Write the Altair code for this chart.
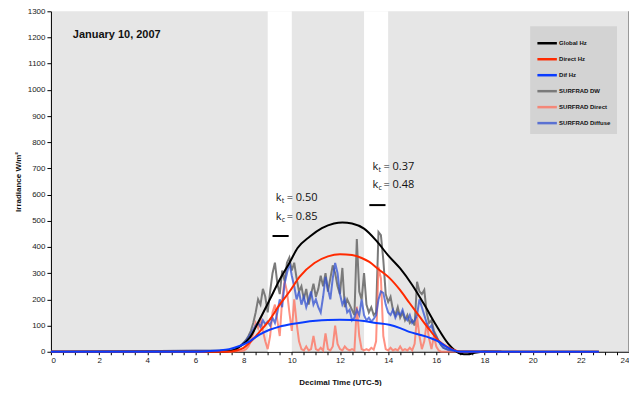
import altair as alt
import pandas as pd

# ---------------- data ----------------
series_names = ["Global Hz", "Direct Hz", "Dif Hz", "SURFRAD DW", "SURFRAD Direct", "SURFRAD Diffuse"]
series_colors = ["#000000", "#ff2a00", "#0a3cff", "#7a7a7a", "rgba(255,110,90,0.75)", "rgba(50,80,210,0.75)"]

glob_x = [0, 7.0, 7.3, 7.6, 7.83, 8.25, 8.66, 9.08, 9.49, 9.9, 10.24, 10.75, 11.25, 11.75, 12.1, 12.5, 13.0, 13.5, 14.0, 14.5, 15.0, 15.5, 16.0, 16.5, 16.8, 17.0, 17.3, 17.6, 18.0, 22.75]
glob_y = [0, 0, 1, 6, 19, 53, 122, 198, 274, 339, 396, 440, 472, 490, 494, 490, 470, 425, 368, 318, 255, 180, 100, 30, 3, -8, -10, -4, 0, 0]

dir_x = [0, 7.0, 7.3, 7.7, 8.0, 8.25, 8.66, 9.08, 9.49, 9.9, 10.32, 10.94, 11.5, 12.0, 12.5, 12.9, 13.22, 13.6, 14.05, 14.5, 14.88, 15.3, 15.71, 16.12, 16.4, 16.7, 17.0, 22.75]
dir_y = [0, 0, 0, 5, 15, 34, 76, 122, 179, 229, 286, 339, 364, 372, 369, 358, 343, 315, 282, 235, 187, 135, 85, 40, 22, 8, 0, 0]

dif_x = [0, 6.0, 6.5, 7.0, 7.4, 7.83, 8.25, 8.66, 9.08, 9.49, 10.0, 10.5, 11.0, 11.5, 12.0, 12.5, 13.0, 13.5, 14.05, 14.5, 14.88, 15.3, 15.71, 16.12, 16.4, 16.7, 17.0, 22.75]
dif_y = [0, 0, 2, 5, 10, 22, 40, 65, 84, 96, 106, 113, 118, 121, 122, 121, 117, 110, 103, 90, 76, 65, 54, 38, 20, 6, 0, 0]

surf_x = [0, 7.5, 7.6, 7.7, 7.8, 7.9, 8.0, 8.1, 8.2, 8.3, 8.4, 8.5, 8.6, 8.7, 8.8, 8.9, 9.0, 9.1, 9.2, 9.3, 9.4, 9.5, 9.6, 9.7, 9.8, 9.9,
          10.0, 10.1, 10.2, 10.3, 10.4, 10.5, 10.6, 10.7, 10.8, 10.9, 11.0, 11.1, 11.2, 11.3, 11.4, 11.5, 11.6, 11.7, 11.8, 11.9,
          12.0, 12.1, 12.2, 12.3, 12.4, 12.5, 12.6, 12.7, 12.8, 12.9, 13.0, 13.1, 13.2, 13.3, 13.4, 13.5, 13.6, 13.7, 13.8, 13.9,
          14.0, 14.1, 14.2, 14.3, 14.4, 14.5, 14.6, 14.7, 14.8, 14.9, 15.0, 15.1, 15.2, 15.3, 15.4, 15.5, 15.6, 15.7, 15.8, 15.9,
          16.0, 16.1, 16.2, 16.3, 16.5, 16.8, 18.7]
surf_dw = [0, 5, 8, 12, 18, 25, 35, 45, 60, 80, 110, 150, 200, 180, 240, 210, 150, 230, 300, 340, 260, 220, 310, 270, 340, 360,
           310, 340, 280, 230, 250, 200, 240, 180, 220, 260, 210, 240, 290, 250, 300, 230, 280, 330, 300, 250,
           220, 320, 170, 200, 180, 160, 140, 430, 230, 200, 300, 180, 150, 170, 140, 150, 457, 445, 350, 220,
           190, 210, 160, 140, 170, 130, 150, 120, 140, 110, 120, 100, 267, 230, 220, 236, 150, 110, 120, 80,
           60, 40, 25, 15, 8, 3, 0]
surf_direct = [0, 0, 1, 2, 2, 3, 5, 10, 20, 40, 70, 110, 90, 130, 80, 40, 10, 60, 150, 180, 120, 60, 200, 270, 230, 150,
               80, 200, 110, 40, 10, 5, 20, 5, 10, 60, 10, 5, 15, 5, 70, 10, 5, 20, 100, 30,
               10, 5, 20, 10, 5, 10, 5, 172, 60, 10, 5, 10, 5, 15, 8, 40, 324, 280, 60, 10,
               5, 15, 5, 10, 5, 20, 5, 10, 5, 15, 5, 30, 133, 60, 10, 40, 110, 50, 10, 60,
               20, 5, 0, 0, 0, 0, 0]
surf_diffuse = [0, 5, 8, 12, 18, 25, 33, 42, 55, 70, 85, 100, 110, 95, 120, 105, 115, 100, 130, 110, 150, 200, 170, 260, 300, 340,
                290, 250, 200, 230, 180, 210, 170, 200, 230, 180, 200, 170, 150, 210, 286, 240, 200, 280, 339, 300,
                220, 180, 200, 150, 160, 120, 130, 160, 140, 200, 140, 120, 130, 115, 125, 140, 200, 230, 225, 180,
                150, 140, 160, 130, 150, 140, 160, 130, 120, 140, 110, 120, 140, 200, 170, 140, 110, 90, 100, 70,
                55, 40, 25, 15, 7, 2, 0]

band_start = [9, 13]
band_end = [10, 14]

title_text = ["January 10, 2007"]
title_x = [0.91]
title_y = [1208]

ann_x = [9.33, 9.33, 13.35, 13.35]
ann_y = [587, 515, 705, 637]
ann_sub = ["t", "c", "t", "c"]
ann_val = ["= 0.50", "= 0.85", "= 0.37", "= 0.48"]

dash_x = [9.2, 13.22]
dash_x2 = [9.87, 13.89]
dash_y = [442, 560]

y_ticks = list(range(0, 1301, 100))
x_ticks = [i * 0.5 for i in range(0, 49)]

# ---------------- tables ----------------
rows = []
for name, xs, ys in [
    ("SURFRAD DW", surf_x, surf_dw),
    ("SURFRAD Direct", surf_x, surf_direct),
    ("SURFRAD Diffuse", surf_x, surf_diffuse),
]:
    for x, y in zip(xs, ys):
        rows.append({"t": x, "v": y, "series": name})
noisy = pd.DataFrame(rows)

rows = []
for name, xs, ys in [
    ("Global Hz", glob_x, glob_y),
    ("Direct Hz", dir_x, dir_y),
    ("Dif Hz", dif_x, dif_y),
]:
    for x, y in zip(xs, ys):
        rows.append({"t": x, "v": y, "series": name})
model = pd.DataFrame(rows)

bands = pd.DataFrame({"t": band_start, "b": band_end})
ann = pd.DataFrame({"t": ann_x, "v": ann_y, "sub": ann_sub, "val": ann_val})
dashes = pd.DataFrame({"t": dash_x, "x2": dash_x2, "v": dash_y})
ttl = pd.DataFrame({"t": title_x, "v": title_y, "text": title_text})
edge = pd.DataFrame({"t": [24]})

xscale = alt.Scale(domain=[0, 24], nice=False, zero=False)
yscale = alt.Scale(domain=[0, 1300], nice=False)

xaxis_def = alt.Axis(
    values=x_ticks,
    labelExpr="datum.value % 2 == 0 ? format(datum.value, 'd') : ''",
    labelOverlap=False,
    title="Decimal Time (UTC-5)",
    tickSize=3,
    titlePadding=14,
)
yaxis_def = alt.Axis(
    values=y_ticks, format="d", labelOverlap=False, title="Irradiance W/m²", tickSize=4, titlePadding=5
)
X = alt.X("t:Q", scale=xscale, axis=xaxis_def)
Y = alt.Y("v:Q", scale=yscale, axis=yaxis_def)

color = alt.Color(
    "series:N",
    scale=alt.Scale(domain=series_names, range=series_colors),
    sort=series_names,
    legend=alt.Legend(
        title=None,
        orient="none",
        legendX=480,
        legendY=15,
        fillColor="#d3d3d3",
        padding=6,
        symbolType="stroke",
        symbolSize=380,
        symbolStrokeWidth=2.5,
        labelFontSize=6,
        labelFont="Liberation Sans",
        labelFontWeight="bold",
        labelColor="#111111",
        rowPadding=-3,
        labelOffset=1,
    ),
)

band_layer = alt.Chart(bands).mark_rect(color="white").encode(
    x=X, x2="b:Q", y=alt.value(0), y2=alt.value(341)
)

noisy_layer = alt.Chart(noisy).mark_line(strokeWidth=2).encode(
    x=X, y=Y, color=color, detail="series:N"
)
model_layer = alt.Chart(model).mark_line(strokeWidth=2, interpolate="monotone").encode(
    x=X, y=Y, color=color, detail="series:N", order=alt.Order("t:Q"),
)

right_edge = alt.Chart(edge).mark_rule(color="#7f7f7f", strokeWidth=1.5).encode(
    x=X, y=alt.value(0), y2=alt.value(341)
)

title_layer = alt.Chart(ttl).mark_text(
    align="left", baseline="middle", fontSize=11, fontWeight="bold", font="Liberation Sans", color="#111111"
).encode(x=X, y=Y, text="text:N")

ann_font = "Open Sans"
ann_k = alt.Chart(ann).mark_text(align="left", baseline="middle", fontSize=11, font=ann_font, color="#111111").encode(
    x=X, y=Y, text=alt.value("k")
)
ann_s = alt.Chart(ann).mark_text(align="left", baseline="middle", fontSize=7, font=ann_font, color="#111111", dx=6, dy=3).encode(
    x=X, y=Y, text="sub:N"
)
ann_v = alt.Chart(ann).mark_text(align="left", baseline="middle", fontSize=11, font=ann_font, color="#111111", dx=11).encode(
    x=X, y=Y, text="val:N"
)
dash_layer = alt.Chart(dashes).mark_rule(color="black", strokeWidth=2).encode(
    x=X, x2="x2:Q", y=Y
)

chart = alt.layer(
    band_layer, noisy_layer, model_layer, right_edge, title_layer, ann_k, ann_s, ann_v, dash_layer
).resolve_scale(color="shared").properties(
    width=579,
    height=341,
    autosize=alt.AutoSizeParams(type="none"),
    padding={"left": 43, "top": 3, "right": 0, "bottom": 34},
).configure_view(
    fill="#e6e6e6", stroke=None
).configure_axis(
    grid=False,
    domainColor="black",
    tickColor="black",
    labelFont="Liberation Sans",
    labelFontSize=8,
    labelColor="#222222",
    titleFont="Liberation Sans",
    titleFontSize=8,
    titleFontWeight="bold",
    titleColor="#111111",
    labelPadding=2,
)

chart.save("out.html", embed_options={"renderer": "svg", "actions": False})
